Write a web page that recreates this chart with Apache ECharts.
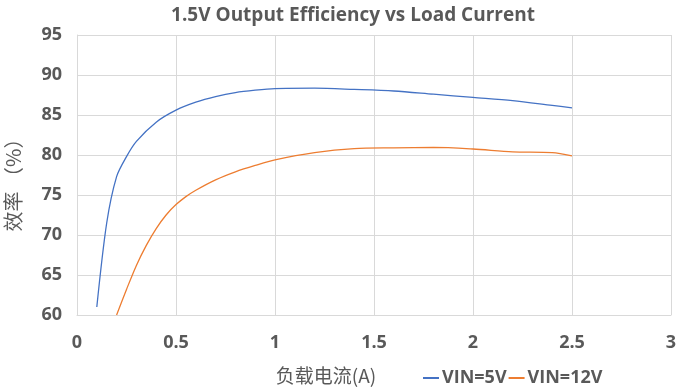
<!DOCTYPE html>
<html><head><meta charset="utf-8">
<script src="https://cdn.jsdelivr.net/npm/echarts@6/dist/echarts.min.js"></script>
<style>html,body{margin:0;padding:0;background:#fff}#c{width:680px;height:387px}</style>
</head><body><div id="c"></div>
<script>
const title = '1.5V Output Efficiency vs Load Current';
const xName = '负载电流(A)';
const yName = '效率 （%）';
const seriesNames = ['VIN=5V', 'VIN=12V'];
const x5 = [0.1, 0.15, 0.2, 0.25, 0.3, 0.4, 0.5, 0.6, 0.7, 0.8, 0.9, 1.0, 1.2, 1.4, 1.6, 1.8, 2.0, 2.2, 2.4, 2.5];
const y5 = [61, 71.5, 77.3, 79.8, 81.7, 84.1, 85.6, 86.6, 87.3, 87.8, 88.1, 88.3, 88.35, 88.2, 88.0, 87.6, 87.2, 86.8, 86.2, 85.9];
const x12 = [0.2, 0.25, 0.3, 0.35, 0.4, 0.45, 0.5, 0.55, 0.6, 0.7, 0.8, 0.9, 1.0, 1.2, 1.4, 1.6, 1.8, 2.0, 2.2, 2.4, 2.5];
const y12 = [60, 63.2, 66.2, 68.7, 70.8, 72.5, 73.8, 74.8, 75.6, 76.9, 77.9, 78.7, 79.4, 80.3, 80.8, 80.9, 80.95, 80.75, 80.4, 80.3, 79.9];

const chart = echarts.init(document.getElementById('c'));
const gray = '#595959';
const font = 'Open Sans';
chart.setOption({
  animation: false,
  title: {text: title, left: 348, textAlign: 'center', top: 1,
    textStyle: {fontFamily: font, fontWeight: 'bold', fontSize: 19, color: gray}},
  legend: {left: 418, top: 364, itemWidth: 16, itemHeight: 2, itemGap: 2, icon: 'rect',
    textStyle: {fontFamily: font, fontSize: 18, fontWeight: 'bold', color: gray, padding: [0, 0, 0, -2]}, data: seriesNames},
  grid: {left: 77, right: 9, top: 35, bottom: 72, outerBoundsMode: 'none', containLabel: false},
  xAxis: {type: 'value', min: 0, max: 3, interval: 0.5,
    name: xName, nameLocation: 'middle', nameGap: 51,
    nameTextStyle: {fontFamily: 'Noto Sans CJK SC', fontSize: 19, color: gray, padding: [0, 96, 0, 0]},
    axisLine: {show: true, lineStyle: {color: '#D9D9D9'}}, axisTick: {show: false},
    splitLine: {show: true, lineStyle: {color: '#D9D9D9'}},
    axisLabel: {fontFamily: font, fontSize: 18, fontWeight: 'bold', color: gray, margin: 19}},
  yAxis: {type: 'value', min: 60, max: 95, interval: 5,
    name: yName, nameLocation: 'middle', nameGap: 54, nameRotate: 90,
    nameTextStyle: {fontFamily: 'Noto Sans CJK SC', fontSize: 20, color: gray, padding: [0, 10, 0, 0]},
    axisLine: {show: true, lineStyle: {color: '#D9D9D9'}}, axisTick: {show: false},
    splitLine: {show: true, lineStyle: {color: '#D9D9D9'}},
    axisLabel: {fontFamily: font, fontSize: 18, fontWeight: 'bold', color: gray, margin: 15}},
  series: [
    {name: seriesNames[0], type: 'line', smooth: 0.3, symbol: 'none', lineStyle: {width: 1.3, color: '#4472C4'}, itemStyle: {color: '#4472C4'},
     data: x5.map((v, i) => [v, y5[i]])},
    {name: seriesNames[1], type: 'line', smooth: 0.3, symbol: 'none', lineStyle: {width: 1.3, color: '#ED7D31'}, itemStyle: {color: '#ED7D31'},
     data: x12.map((v, i) => [v, y12[i]])}
  ]
});
</script></body></html>
